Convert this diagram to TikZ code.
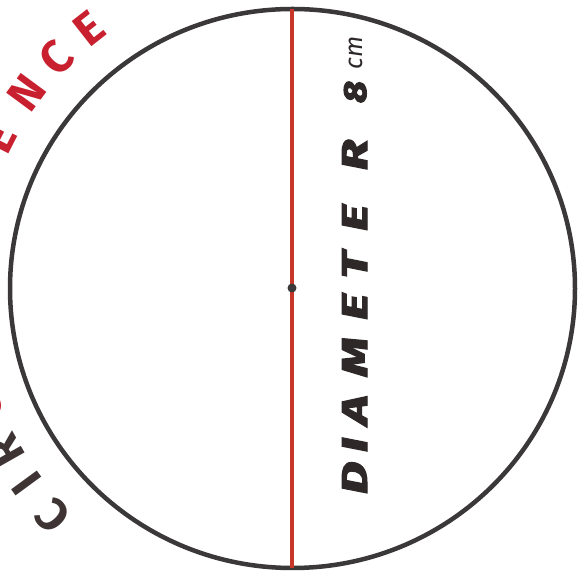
\documentclass[tikz,border=0pt]{standalone}
\usepackage{fontspec}
\setmainfont{Fira Sans}
\newfontfamily\dfont{Fira Sans}[BoldItalicFeatures={FakeBold=3}]
\usetikzlibrary{calc}
\definecolor{ringcol}{HTML}{3A3838}
\definecolor{diamcol}{HTML}{C8362A}
\definecolor{circred}{HTML}{C8202E}
\definecolor{circdark}{HTML}{3E3434}
\definecolor{txtcol}{HTML}{2E2828}
\tikzset{
  ring/.style={draw=ringcol, line width=4.5pt},
  diamline/.style={draw=diamcol, line width=3.4pt},
  centredot/.style={circle, fill=ringcol, minimum size=9pt, inner sep=0pt},
  dletter/.style={rotate=90, anchor=base, inner sep=0pt, text=txtcol,
    font=\fontsize{36}{36}\selectfont\dfont\bfseries\itshape},
  cletter/.style={anchor=center, inner sep=0pt, font=\fontsize{46}{46}\selectfont\bfseries}
}
\begin{document}
\begin{tikzpicture}[x=1pt,y=1pt]
\useasboundingbox (0,0) rectangle (579,578);
\clip (0,0) rectangle (579,578);
\fill[white] (0,0) rectangle (579,578);
\coordinate (O) at (292.5,289.5);
\draw[ring] (O) ellipse [x radius=282.5, y radius=279.5];
\coordinate (T) at (292,569);
\coordinate (B) at (292,10);
\draw[diamline] (T) -- (B);
\node[centredot] (ctr) at (292,290) {};
% DIAMETER 8cm
\node[dletter] (d1) at (367,100) {\scalebox{1.4}[1]{D}};
\node[dletter] (d2) at (367,133) {\scalebox{1.4}[1]{I}};
\node[dletter] (d3) at (367,168) {\scalebox{1.4}[1]{A}};
\node[dletter] (d4) at (367,221) {\scalebox{1.4}[1]{M}};
\node[dletter] (d5) at (367,271) {\scalebox{1.4}[1]{E}};
\node[dletter] (d6) at (367,313) {\scalebox{1.4}[1]{T}};
\node[dletter] (d7) at (367,360) {\scalebox{1.4}[1]{E}};
\node[dletter] (d8) at (367,423) {\scalebox{1.4}[1]{R}};
\node[dletter, font=\fontsize{32}{32}\selectfont\dfont\bfseries\itshape] (d9) at (366,486) {\scalebox{1.2}[1]{8}};
\node[dletter, font=\fontsize{25}{25}\selectfont\dfont\itshape] (d10) at (362,525) {cm};
% CIRCUMFERENCE around the circle
\foreach \ang/\ltr/\col [count=\i] in {223.5/C/circdark, 216.2/I/circdark, 209.5/R/circdark,
   201.5/C/circred, 193.5/U/circred, 185.5/M/circred, 177.5/F/circred, 169.5/E/circred,
   161.5/R/circred, 153.0/E/circred, 143.6/N/circred, 135.7/C/circred, 128.1/E/circred}{
  \node[cletter, text=\col, rotate=\ang-90] (c\i) at ($(O)+(\ang:330)$) {\ltr};
}
\end{tikzpicture}
\end{document}
